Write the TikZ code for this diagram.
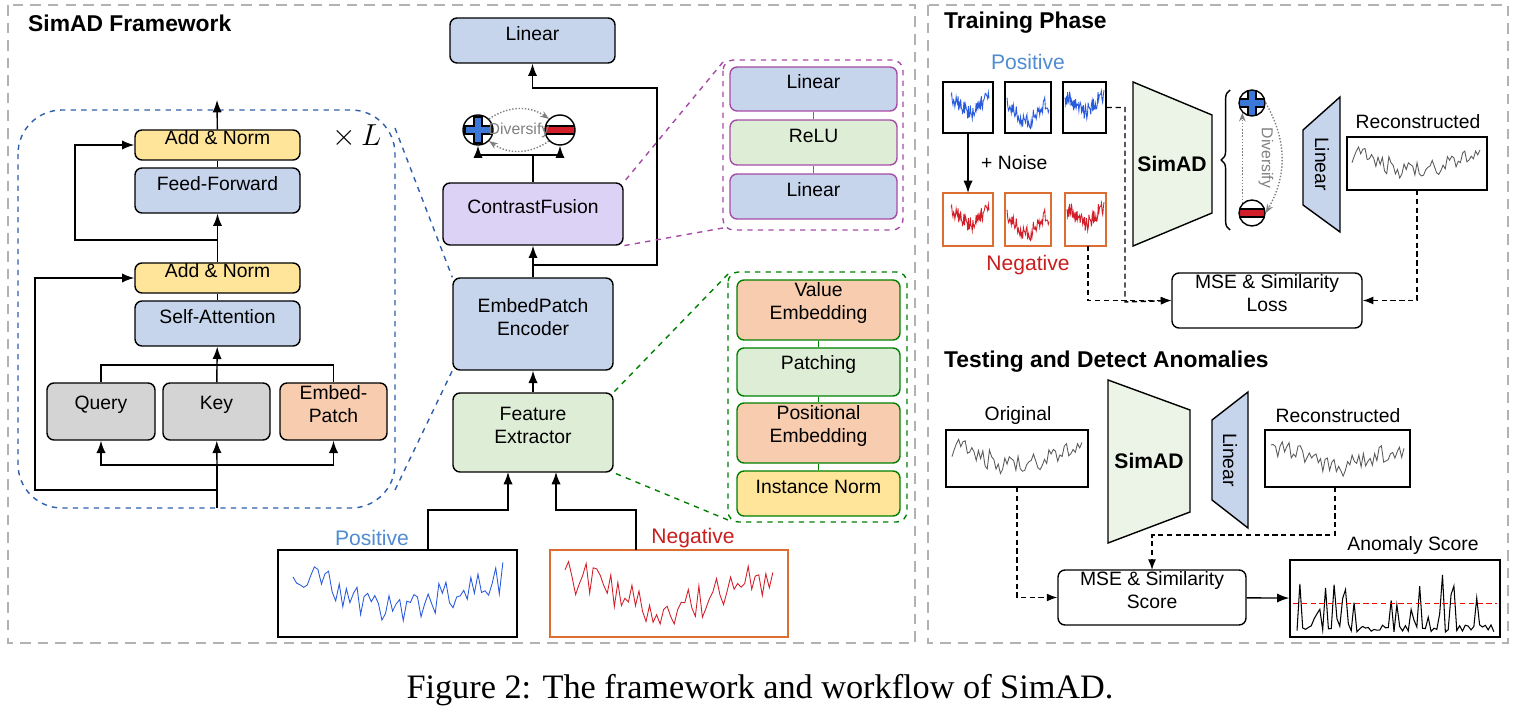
\documentclass[tikz,border=0pt]{standalone}
\usepackage{fontspec}
\setmainfont{Liberation Serif}
\setsansfont{Liberation Sans}
\usetikzlibrary{arrows.meta,fit,calc,decorations.pathreplacing}
\definecolor{bl}{RGB}{198,212,236}
\definecolor{gr}{RGB}{222,237,214}
\definecolor{yl}{RGB}{255,229,153}
\definecolor{orr}{RGB}{248,204,174}
\definecolor{pu}{RGB}{220,210,246}
\definecolor{gy}{RGB}{212,212,212}
\definecolor{pblue}{RGB}{60,120,215}
\definecolor{sblue}{RGB}{40,90,220}
\definecolor{sred}{RGB}{210,30,40}
\definecolor{sgray}{RGB}{90,90,90}
\definecolor{nred}{RGB}{200,30,30}
\definecolor{poscol}{RGB}{80,140,210}
\definecolor{ogb}{RGB}{220,110,50}
\tikzset{
  box/.style={draw, thick, rounded corners=4pt, inner sep=0pt, align=center},
  panel/.style={draw=gray!60, dashed, line width=1.2pt, dash pattern=on 6pt off 4pt},
  title/.style={font=\sffamily\bfseries\fontsize{13}{15}\selectfont, anchor=west},
  sbox/.style={draw, thick, inner sep=0pt},
  plusc/.style={circle, draw, thick, fill=white, minimum size=0.6cm, inner sep=0pt,
    path picture={\filldraw[fill=pblue, draw=black, thick]
      ([shift={(-4,-13)}]path picture bounding box.center) -- ++(8,0) -- ++(0,9) -- ++(9,0)
      -- ++(0,8) -- ++(-9,0) -- ++(0,9) -- ++(-8,0) -- ++(0,-9) -- ++(-9,0) -- ++(0,-8)
      -- ++(9,0) -- cycle;}},
  minusc/.style={circle, draw, thick, fill=white, minimum size=0.6cm, inner sep=0pt,
    path picture={\filldraw[fill=sred, draw=black, thick]
      ([shift={(-16,-4)}]path picture bounding box.center) rectangle ++(32,8);}},
  div/.style={gray, densely dotted, thick, -{Stealth[length=5pt]}},
  dsh/.style={densely dashed, thick, -{Latex[length=6pt]}}
}
% x1,y1,x2,y2,colour,seed
\newcommand\sig[6]{\pgfmathsetseed{#6}
  \draw[#5, line width=0.5pt] plot[domain=0:1, samples=60]
    ({#1+(#3-#1)*\x}, {(#2+#4)/2 - (#4-#2)*(0.22*cos(360*\x) + 0.25*rand)});}
\newcommand\spk[5]{\pgfmathsetseed{#5}
  \draw[line width=0.6pt] plot[domain=0:1, samples=70]
    ({#1+(#3-#1)*\x}, {#4 - (#4-#2)*(0.12*rnd + 0.88*pow(rnd,7))});}
\begin{document}
\begin{tikzpicture}[x=0.02cm, y=-0.02cm, font=\sffamily\fontsize{11}{13}\selectfont, >={Latex[length=7pt]}]
  \useasboundingbox (0,0) rectangle (1513,712);
  % panels
  \draw[panel] (8,5) rectangle (915,643);
  \draw[panel] (928,5) rectangle (1508,643);
  \node[title] at (22,23) {SimAD Framework};
  \node[title] at (938,23) {Training Phase};
  \node[title] at (938,362) {Testing and Detect Anomalies};

  % encoder block
  \draw[dashed, thick, draw=pblue!80!black, rounded corners=25pt] (18,110) rectangle (395,508);
  \node[box, fill=yl, fit={(135,130)(300,160)}] (an1) {Add \& Norm};
  \node[box, fill=bl, fit={(135,168)(300,213)}] (ff) {Feed-Forward};
  \node[box, fill=yl, fit={(135,263)(300,293)}] (an2) {Add \& Norm};
  \node[box, fill=bl, fit={(135,301)(300,346)}] (sa) {Self-Attention};
  \node[box, fill=gy, fit={(47,383)(155,440)}] (q) {Query};
  \node[box, fill=gy, fit={(163,383)(270,440)}] (k) {Key};
  \node[box, fill=orr, fit={(280,383)(387,440)}] (ep) {Embed-\\Patch};
  \node[font=\fontsize{16}{18}\selectfont] (xl) at (357,136) {$\times\, L$};
  \coordinate (top) at (217,100);
  \coordinate (base) at (217,508);
  \draw[thick,->] (an1) -- (top);
  \draw[thick] (ff) -- (an1);
  \draw[thick,->] (an2) -- (ff);
  \draw[thick,->] (217,240) -| (75,145) -- (an1.west);
  \draw[thick] (sa) -- (an2);
  \draw[thick,->] (217,365) -- (sa);
  \draw[thick] (q.north) |- (217,365) -| (ep.north);
  \draw[thick] (k) -- (217,365);
  \draw[thick] (base) -- (217,465);
  \draw[thick,->] (217,465) -| (q.south);
  \draw[thick,->] (217,465) -| (ep.south);
  \draw[thick,->] (217,465) -- (k);
  \draw[thick,->] (217,490) -| (35,278) -- (an2.west);

  % middle column
  \node[box, fill=bl, fit={(450,18)(615,63)}] (lin) {Linear};
  \node[box, fill=pu, fit={(443,183)(623,245)}] (cf) {ContrastFusion};
  \node[box, fill=bl, fit={(453,278)(613,370)}] (enc) {EmbedPatch\\Encoder};
  \node[box, fill=gr, fit={(453,393)(613,472)}] (fe) {Feature\\Extractor};
  \node[plusc] (p1) at (478,130) {};
  \node[minusc] (m1) at (560,130) {};
  \node[gray, font=\sffamily\fontsize{9}{11}\selectfont] (dv1) at (519,130) {Diversify};
  \draw[div] (p1.north east) to[bend left=35] (m1.north west);
  \draw[div] (m1.south west) to[bend left=35] (p1.south east);
  \draw[thick] (cf) -- (533,155);
  \draw[thick,->] (533,155) -| (p1.south);
  \draw[thick,->] (533,155) -| (m1.south);
  \draw[thick,->] (enc) -- (cf);
  \draw[thick,->] (533,265) -| (657,88) -| (lin.south);
  \draw[thick,->] (fe) -- (enc);

  % inputs
  \node[sbox, fit={(278,550)(517,637)}] (posb) {};
  \node[sbox, draw=ogb, fit={(550,550)(788,637)}] (negb) {};
  \node[poscol, font=\sffamily\fontsize{12}{14}\selectfont] at (372,538) {Positive};
  \node[nred, font=\sffamily\fontsize{12}{14}\selectfont] at (693,538) {Negative};
  \sig{293}{558}{503}{628}{sblue}{11}
  \sig{565}{558}{773}{628}{sred}{12}
  \draw[thick,->] (428,550) |- (508,510) -- (508,472);
  \draw[thick,->] (636,550) |- (556,510) -- (556,472);

  % MLP detail
  \draw[dashed, thick, draw=violet!70, rounded corners=6pt] (723,60) rectangle (903,230);
  \node[box, draw=violet!70, fill=bl, fit={(730,67)(897,111)}] (l1) {Linear};
  \node[box, draw=violet!70, fill=gr, fit={(730,120)(897,165)}] (relu) {ReLU};
  \node[box, draw=violet!70, fill=bl, fit={(730,174)(897,219)}] (l2) {Linear};
  \draw[thick, violet!70] (l1) -- (relu) -- (l2);
  \draw[dashed, thick, violet!70] (723,62) -- (cf.north east);
  \draw[dashed, thick, violet!70] (723,228) -- (cf.south east);

  % feature extractor detail
  \draw[dashed, thick, draw=green!50!black, rounded corners=6pt] (728,272) rectangle (907,522);
  \node[box, draw=green!50!black, fill=orr, fit={(737,280)(900,340)}] (ve) {Value\\Embedding};
  \node[box, draw=green!50!black, fill=gr, fit={(737,348)(900,396)}] (pt) {Patching};
  \node[box, draw=green!50!black, fill=orr, fit={(737,403)(900,463)}] (pe) {Positional\\Embedding};
  \node[box, draw=green!50!black, fill=yl, fit={(737,471)(900,516)}] (in) {Instance Norm};
  \draw[thick, green!50!black] (ve) -- (pt) -- (pe) -- (in);
  \draw[dashed, thick, green!50!black] (728,274) -- (fe.north east);
  \draw[dashed, thick, green!50!black] (728,520) -- (fe.south east);
  \draw[dashed, thick, draw=pblue!80!black] (395,128) -- (enc.north west);
  \draw[dashed, thick, draw=pblue!80!black] (395,490) -- (enc.south west);

  % training phase
  \node[poscol, font=\sffamily\fontsize{12}{14}\selectfont] at (1028,62) {Positive};
  \node[sbox, fit={(943,82)(993,133)}] (tp1) {};
  \node[sbox, fit={(1005,82)(1051,133)}] (tp2) {};
  \node[sbox, fit={(1063,82)(1106,133)}] (tp3) {};
  \node[sbox, draw=ogb, fit={(943,193)(993,246)}] (tn1) {};
  \node[sbox, draw=ogb, fit={(1005,193)(1051,246)}] (tn2) {};
  \node[sbox, draw=ogb, fit={(1065,193)(1106,246)}] (tn3) {};
  \sig{951}{90}{989}{120}{sblue}{3}
  \sig{1007}{95}{1049}{130}{sblue}{4}
  \sig{1065}{88}{1104}{120}{sblue}{5}
  \sig{951}{202}{989}{232}{sred}{3}
  \sig{1007}{207}{1049}{242}{sred}{4}
  \sig{1067}{200}{1104}{232}{sred}{5}
  \node[nred, font=\sffamily\fontsize{12}{14}\selectfont] at (1028,265) {Negative};
  \node[anchor=west] at (975,163) {+ Noise};
  \draw[thick,->] (968,133) -- (968,193);
  \draw[thick, fill=gr!60] (1133,82) -- (1212,115) -- (1212,213) -- (1133,246) -- cycle;
  \node[font=\sffamily\bfseries\fontsize{12}{14}\selectfont] (sim1) at (1172,164) {SimAD};
  \draw[decorate, decoration={brace, amplitude=5pt}, thick] (1230,230) -- (1230,90);
  \node[plusc, minimum size=0.52cm] (p2) at (1252,103) {};
  \node[minusc, minimum size=0.52cm] (m2) at (1252,213) {};
  \draw[div] (m2.north west) -- (p2.south west);
  \draw[div] (p2.east) to[bend left=30] (m2.east);
  \node[gray, rotate=-90, font=\sffamily\fontsize{9}{11}\selectfont] at (1266,158) {Diversify};
  \draw[thick, fill=bl] (1303,130) -- (1340,97) -- (1340,232) -- (1303,205) -- cycle;
  \node[rotate=-90] (lin2) at (1322,164) {Linear};
  \node at (1418,122) {Reconstructed};
  \node[sbox, fit={(1347,137)(1487,190)}] (rec1) {};
  \sig{1352}{145}{1480}{182}{sgray}{21}
  \node[box, fill=white, fit={(1172,273)(1362,328)}] (loss) {MSE \& Similarity\\Loss};
  \draw[dsh] (tp3.east) -| (1125,302) -- (loss.west);
  \draw[dsh] (1088,246) |- (loss.west);
  \draw[dsh] (1417,190) |- (loss.east);

  % testing
  \node at (1018,416) {Original};
  \node[sbox, fit={(946,430)(1088,487)}] (org) {};
  \sig{952}{437}{1082}{478}{sgray}{21}
  \draw[thick, fill=gr!60] (1108,380) -- (1190,410) -- (1190,512) -- (1108,543) -- cycle;
  \node[font=\sffamily\bfseries\fontsize{12}{14}\selectfont] (sim2) at (1149,461) {SimAD};
  \draw[thick, fill=bl] (1212,420) -- (1248,392) -- (1248,528) -- (1212,500) -- cycle;
  \node[rotate=-90] (lin3) at (1230,460) {Linear};
  \node at (1338,416) {Reconstructed};
  \node[sbox, fit={(1265,430)(1410,487)}] (rec2) {};
  \sig{1271}{437}{1404}{478}{sgray}{22}
  \node[box, fill=white, fit={(1058,570)(1246,625)}] (score) {MSE \& Similarity\\Score};
  \draw[dsh] (1017,487) |- (score.west);
  \draw[dsh] (1335,487) |- (1152,535) -- (1152,570);
  \node at (1413,546) {Anomaly Score};
  \node[sbox, fit={(1290,560)(1500,637)}] (asb) {};
  \spk{1297}{568}{1494}{632}{7}
  \draw[red, densely dashed, thin] (1293,603) -- (1497,603);
  \draw[thick,->] (score) -- (asb);

  % caption
  \node[font=\rmfamily\fontsize{19.5}{22}\selectfont] at (760,690) {Figure 2: The framework and workflow of SimAD.};
\end{tikzpicture}
\end{document}
